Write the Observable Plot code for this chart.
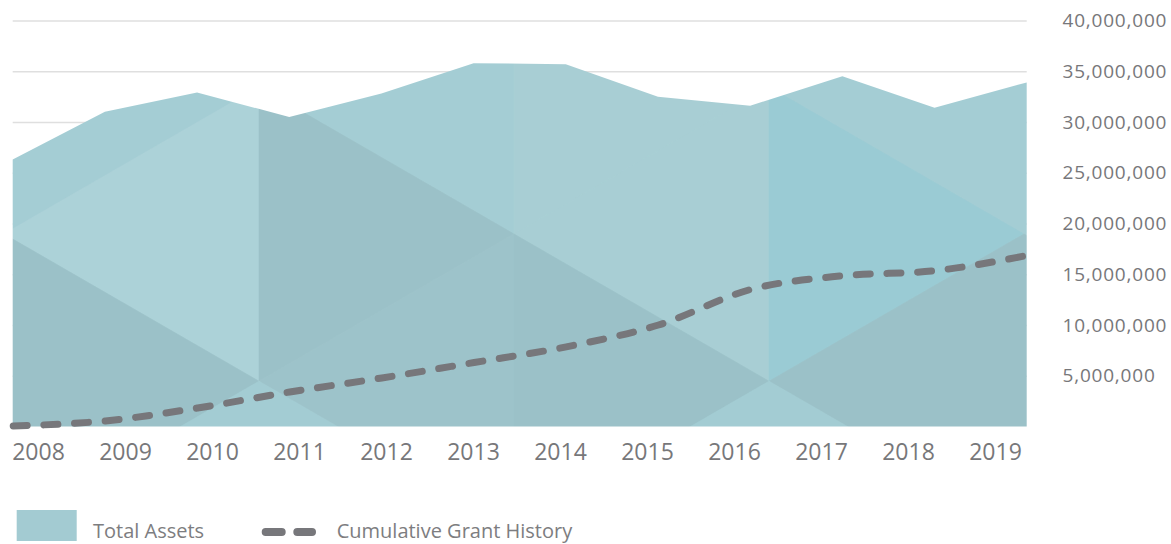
<!DOCTYPE html>
<html>
<head>
<meta charset="utf-8">
<script src="https://cdn.jsdelivr.net/npm/d3@7"></script>
<script src="https://cdn.jsdelivr.net/npm/@observablehq/plot@0.6"></script>
<style>
  html, body { margin: 0; padding: 0; background: #fff; }
  #wrap { position: relative; width: 1171px; height: 544px; overflow: hidden; }
  #wrap svg { display: block; }
</style>
</head>
<body>
<div id="wrap">
  <div id="chart"></div>
  <div id="years"></div>
  <div id="legend"></div>
</div>
<script>
// ---- data ----
const years = [2008, 2009, 2010, 2011, 2012, 2013, 2014, 2015, 2016, 2017, 2018, 2019];
const totalAssets = [26300000, 31000000, 32900000, 30500000, 32800000, 35800000, 35700000, 32500000, 31600000, 34500000, 31400000, 33900000];
const cumulativeGrants = [100000, 600000, 1870000, 3450000, 4830000, 6350000, 7900000, 10050000, 13550000, 14900000, 15400000, 16900000];
const yTicks = [5000000, 10000000, 15000000, 20000000, 25000000, 30000000, 35000000, 40000000];
const seriesNames = ["Total Assets", "Cumulative Grant History"];

// decorative low-poly texture colours of the assets area (strip x row)
const texturePalette = [
  ["#a4cdd4", "#acd2d8", "#9bc1c8", "#a3ccd3"],
  ["#a4cdd4", "#9bc1c8", "#9dc3ca", "#a3ccd3"],
  ["#a8ced4", "#a8ced4", "#9bc1c8", "#a3ccd3"],
  ["#a4cdd4", "#9acbd4", "#9bc1c8", "#a3ccd3"],
  ["#a4cdd4", "#a4cdd4", "#9bc1c8", "#9bc1c8"]
];

const data = years.map((year, i) => ({year, assets: totalAssets[i], grants: cumulativeGrants[i]}));

const textColor = "#77777a";
const lineColor = "#77777b";
const swatchColor = "#a3cbd2";

const chart = Plot.plot({
  width: 1171,
  height: 432,
  marginTop: 20.5,
  marginBottom: 5.5,
  marginLeft: 12.7,
  marginRight: 144.3,
  style: {fontFamily: "'Open Sans', sans-serif", fontSize: "19px", color: textColor, letterSpacing: "0.8px", background: "transparent", overflow: "visible"},
  x: {type: "linear", domain: [years[0], years[years.length - 1]], axis: null},
  y: {domain: [0, 40000000], axis: "right", ticks: yTicks, tickFormat: d3.format(","), tickSize: 0, tickPadding: 35.3, label: null},
  marks: [
    Plot.ruleY(yTicks, {stroke: "#dfdfdf", strokeWidth: 1.5}),
    Plot.areaY(data, {x: "year", y: "assets", fill: "url(#assetsTexture)"}),
    Plot.line(data, {x: "year", y: "grants", stroke: lineColor, strokeWidth: 7, strokeDasharray: "14,16.7", strokeLinecap: "round", curve: "monotone-x"})
  ]
});

// build the decorative triangular texture used as the area fill
(function addTexture(svg) {
  const ns = "http://www.w3.org/2000/svg";
  const defs = document.createElementNS(ns, "defs");
  const pat = document.createElementNS(ns, "pattern");
  pat.setAttribute("id", "assetsTexture");
  pat.setAttribute("patternUnits", "userSpaceOnUse");
  pat.setAttribute("x", 0); pat.setAttribute("y", 0);
  pat.setAttribute("width", 1171); pat.setAttribute("height", 544);
  const bg = document.createElementNS(ns, "rect");
  bg.setAttribute("width", 1171); bg.setAttribute("height", 544); bg.setAttribute("fill", texturePalette[0][0]);
  pat.appendChild(bg);
  const w = 255, x0 = 4, yBase = 234, L = 2 * w * Math.tan(Math.PI / 6);
  texturePalette.forEach((colors, k) => {
    const xl = x0 + k * w, xr = xl + w, leftEven = k % 2 === 0;
    colors.forEach((c, row) => {
      const cy = yBase + (row - 1) * L / 2;
      const leftBased = leftEven ? row % 2 === 0 : row % 2 === 1;
      const pts = leftBased
        ? [[xl, cy - L / 2], [xl, cy + L / 2], [xr, cy]]
        : [[xr, cy - L / 2], [xr, cy + L / 2], [xl, cy]];
      const poly = document.createElementNS(ns, "polygon");
      poly.setAttribute("points", pts.map(p => p.join(",")).join(" "));
      poly.setAttribute("fill", c);
      poly.setAttribute("stroke", c);
      poly.setAttribute("stroke-width", 0.6);
      pat.appendChild(poly);
    });
  });
  defs.appendChild(pat);
  svg.insertBefore(defs, svg.firstChild);
})(chart);

document.getElementById("chart").appendChild(chart);

const yearAxis = Plot.plot({
  width: 1171,
  height: 40,
  marginTop: 0,
  marginBottom: 30,
  marginLeft: 34,
  marginRight: 172,
  style: {fontFamily: "'Open Sans', sans-serif", fontSize: "23px", color: textColor, background: "transparent", overflow: "visible"},
  x: {type: "point", domain: years, padding: 0, tickSize: 0, tickPadding: 1, tickFormat: d => String(d), label: null},
  marks: [Plot.ruleX(years, {stroke: "none"})]
});
document.getElementById("years").appendChild(yearAxis);

// legend
(function legend() {
  const ns = "http://www.w3.org/2000/svg";
  const svg = document.createElementNS(ns, "svg");
  svg.setAttribute("width", 1171); svg.setAttribute("height", 72);
  svg.style.fontFamily = "'Open Sans', sans-serif";
  const rect = document.createElementNS(ns, "rect");
  rect.setAttribute("x", 16.7); rect.setAttribute("y", 38); rect.setAttribute("width", 60); rect.setAttribute("height", 31);
  rect.setAttribute("fill", swatchColor);
  svg.appendChild(rect);
  const t1 = document.createElementNS(ns, "text");
  t1.setAttribute("x", 93); t1.setAttribute("y", 66); t1.setAttribute("font-size", 20); t1.setAttribute("fill", "#7d7d80");
  t1.textContent = seriesNames[0];
  svg.appendChild(t1);
  const ln = document.createElementNS(ns, "line");
  ln.setAttribute("x1", 265.7); ln.setAttribute("x2", 312); ln.setAttribute("y1", 60); ln.setAttribute("y2", 60);
  ln.setAttribute("stroke", lineColor); ln.setAttribute("stroke-width", 8); ln.setAttribute("stroke-linecap", "round");
  ln.setAttribute("stroke-dasharray", "16,15.6");
  svg.appendChild(ln);
  const t2 = document.createElementNS(ns, "text");
  t2.setAttribute("x", 336.7); t2.setAttribute("y", 66); t2.setAttribute("font-size", 20); t2.setAttribute("fill", "#7d7d80");
  t2.textContent = seriesNames[1];
  svg.appendChild(t2);
  document.getElementById("legend").appendChild(svg);
})();
</script>
</body>
</html>
